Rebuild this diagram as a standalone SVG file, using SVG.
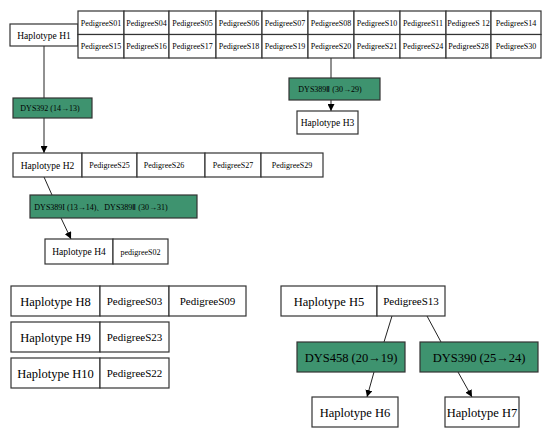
<svg xmlns="http://www.w3.org/2000/svg" width="545" height="433" viewBox="0 0 545 433">
<defs>
<marker id="arr" viewBox="0 0 10 10" refX="10" refY="5" markerWidth="7" markerHeight="7" markerUnits="userSpaceOnUse" orient="auto"><path d="M0,0 L10,5 L0,10 z" fill="#000"/></marker>
<style>
rect{fill:#fff;stroke:#333;stroke-width:1.2}
rect.g{fill:#3e936f}
line,path.c{stroke:#222;stroke-width:1;fill:none}
text{font-family:"Liberation Serif","Times New Roman",serif;fill:#000;text-anchor:middle}
.s8{font-size:8px}
.s9{font-size:9.5px}
.s11{font-size:11px}
.s12{font-size:12.5px}
</style>
</defs>
<rect x="0" y="0" width="545" height="433" style="fill:#fff;stroke:none"/>

<g id="connectors">
<line x1="44" y1="46" x2="44" y2="98"/>
<line x1="44" y1="118" x2="44" y2="153" marker-end="url(#arr)"/>
<line x1="44" y1="177" x2="52" y2="195"/>
<line x1="61" y1="218" x2="71" y2="239" marker-end="url(#arr)"/>
<line x1="331" y1="58" x2="331" y2="78"/>
<line x1="331" y1="100" x2="331" y2="111" marker-end="url(#arr)"/>
<line x1="392" y1="316" x2="384" y2="342"/>
<line x1="427" y1="316" x2="441" y2="342"/>
<line x1="374" y1="372" x2="367" y2="397" marker-end="url(#arr)"/>
<line x1="458" y1="372" x2="472" y2="397" marker-end="url(#arr)"/>
</g>

<g id="H1">
<rect x="10" y="24" width="68" height="22"/>
<text class="s9" x="44" y="38.5">Haplotype H1</text>
</g>

<g id="pedigree-table">
<rect x="78" y="11" width="46" height="23.5"/><rect x="124" y="11" width="45" height="23.5"/><rect x="169" y="11" width="47" height="23.5"/><rect x="216" y="11" width="46" height="23.5"/><rect x="262" y="11" width="46" height="23.5"/><rect x="308" y="11" width="46" height="23.5"/><rect x="354" y="11" width="46" height="23.5"/><rect x="400" y="11" width="46" height="23.5"/><rect x="446" y="11" width="45" height="23.5"/><rect x="491" y="11" width="50" height="23.5"/>
<rect x="78" y="34.5" width="46" height="23.5"/><rect x="124" y="34.5" width="45" height="23.5"/><rect x="169" y="34.5" width="47" height="23.5"/><rect x="216" y="34.5" width="46" height="23.5"/><rect x="262" y="34.5" width="46" height="23.5"/><rect x="308" y="34.5" width="46" height="23.5"/><rect x="354" y="34.5" width="46" height="23.5"/><rect x="400" y="34.5" width="46" height="23.5"/><rect x="446" y="34.5" width="45" height="23.5"/><rect x="491" y="34.5" width="50" height="23.5"/>
<text class="s8" x="101" y="25.5">PedigreeS01</text><text class="s8" x="146.5" y="25.5">PedigreeS04</text><text class="s8" x="192.5" y="25.5">PedigreeS05</text><text class="s8" x="239" y="25.5">PedigreeS06</text><text class="s8" x="285" y="25.5">PedigreeS07</text><text class="s8" x="331" y="25.5">PedigreeS08</text><text class="s8" x="377" y="25.5">PedigreeS10</text><text class="s8" x="423" y="25.5">PedigreeS11</text><text class="s8" x="468.5" y="25.5">PedigreeS 12</text><text class="s8" x="516" y="25.5">PedigreeS14</text>
<text class="s8" x="101" y="49">PedigreeS15</text><text class="s8" x="146.5" y="49">PedigreeS16</text><text class="s8" x="192.5" y="49">PedigreeS17</text><text class="s8" x="239" y="49">PedigreeS18</text><text class="s8" x="285" y="49">PedigreeS19</text><text class="s8" x="331" y="49">PedigreeS20</text><text class="s8" x="377" y="49">PedigreeS21</text><text class="s8" x="423" y="49">PedigreeS24</text><text class="s8" x="468.5" y="49">PedigreeS28</text><text class="s8" x="516" y="49">PedigreeS30</text>
</g>

<g id="DYS392">
<rect class="g" x="13" y="98" width="79" height="20"/>
<text class="s8" x="50" y="111">DYS392 (14→13)</text>
</g>

<g id="DYS389II-a">
<rect class="g" x="289" y="78" width="91" height="22"/>
<text class="s8" x="330" y="92">DYS389Ⅱ (30→29)</text>
</g>

<g id="H3">
<rect x="297" y="111" width="61" height="23"/>
<text class="s9" x="327.5" y="126">Haplotype H3</text>
</g>

<g id="H2">
<rect x="13" y="153" width="69" height="24"/><rect x="82" y="153" width="55" height="24"/><rect x="137" y="153" width="68" height="24"/><rect x="205" y="153" width="56" height="24"/><rect x="261" y="153" width="62" height="24"/>
<text class="s9" x="47.5" y="168.5">Haplotype H2</text>
<text class="s8" x="109.5" y="168">PedigreeS25</text><text class="s8" x="164" y="168">PedigreeS26</text><text class="s8" x="233" y="168">PedigreeS27</text><text class="s8" x="292" y="168">PedigreeS29</text>
</g>

<g id="DYS389">
<rect class="g" x="30" y="195" width="167" height="23"/>
<text class="s8" x="101" y="209.5">DYS389I (13→14)、DYS389Ⅱ (30→31)</text>
</g>

<g id="H4">
<rect x="45" y="239" width="68" height="25"/><rect x="113" y="239" width="55" height="25"/>
<text class="s9" x="79" y="255">Haplotype H4</text>
<text class="s8" x="140.5" y="254.5">pedigreeS02</text>
</g>

<g id="H8">
<rect x="11" y="286" width="89" height="30"/><rect x="100" y="286" width="69" height="30"/><rect x="169" y="286" width="77" height="30"/>
<text class="s12" x="55.5" y="305.5">Haplotype H8</text>
<text class="s11" x="134.5" y="305">PedigreeS03</text><text class="s11" x="207.5" y="305">PedigreeS09</text>
</g>

<g id="H9">
<rect x="11" y="322" width="89" height="30"/><rect x="100" y="322" width="69" height="30"/>
<text class="s12" x="55.5" y="341.5">Haplotype H9</text>
<text class="s11" x="134.5" y="341">PedigreeS23</text>
</g>

<g id="H10">
<rect x="11" y="358" width="89" height="30"/><rect x="100" y="358" width="69" height="30"/>
<text class="s12" x="55.5" y="377.5">Haplotype H10</text>
<text class="s11" x="134.5" y="377">PedigreeS22</text>
</g>

<g id="H5">
<rect x="281" y="286" width="96" height="30"/><rect x="377" y="286" width="68" height="30"/>
<text class="s12" x="329" y="305.5">Haplotype H5</text>
<text class="s11" x="411" y="305">PedigreeS13</text>
</g>

<g id="DYS458">
<rect class="g" x="297" y="342" width="108" height="30"/>
<text class="s12" x="351" y="361.5">DYS458 (20→19)</text>
</g>

<g id="DYS390">
<rect class="g" x="420" y="342" width="118" height="30"/>
<text class="s12" x="479" y="361.5">DYS390 (25→24)</text>
</g>

<g id="H6">
<rect x="312" y="397" width="86" height="30"/>
<text class="s12" x="355" y="416.5">Haplotype H6</text>
</g>

<g id="H7">
<rect x="445" y="397" width="74" height="30"/>
<text class="s12" x="482" y="416.5">Haplotype H7</text>
</g>
</svg>
